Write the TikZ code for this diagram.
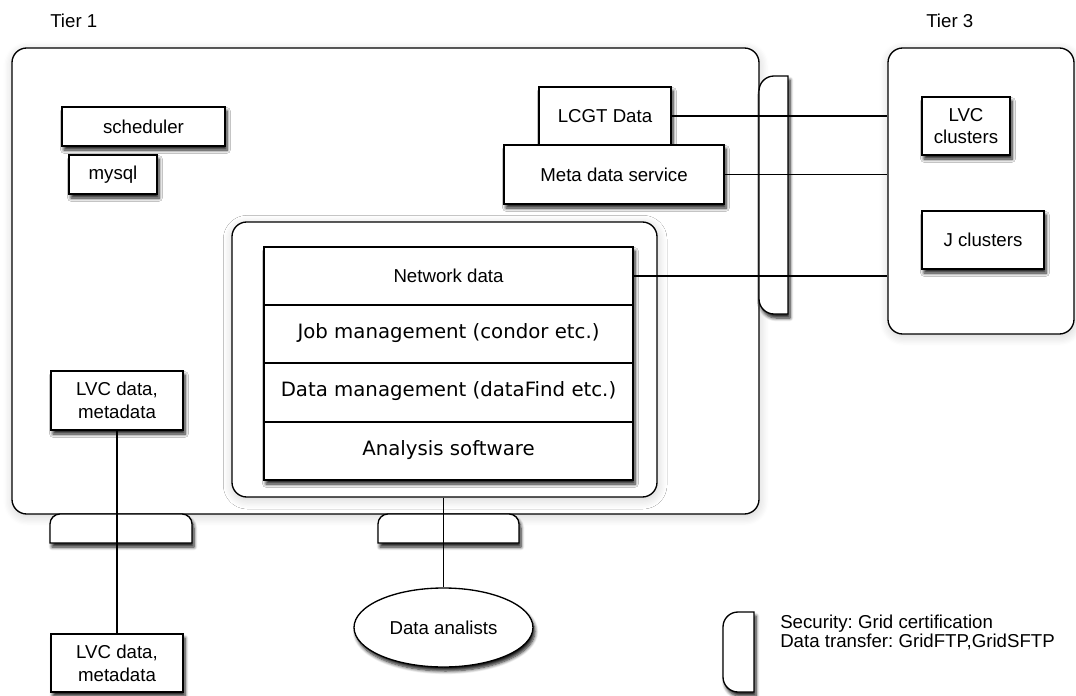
\documentclass[tikz,border=0pt]{standalone}
\usepackage{fontspec}
\setmainfont{Liberation Sans}
\newfontfamily\hira{DejaVu Sans}
\usetikzlibrary{shapes.geometric,shadows.blur}
\frenchspacing

\begin{document}
\begin{tikzpicture}[x=0.75pt,y=-0.75pt,
  every node/.style={font=\fontsize{14}{17}\selectfont},
  rect/.style n args={4}{minimum width={(#3-#1)*0.75pt}, minimum height={(#4-#2)*0.75pt}, at={({(#1+#3)/2},{(#2+#4)/2})}},
  sh/.style={blur shadow={shadow xshift=1.5pt,shadow yshift=-3pt,shadow blur radius=2.5pt,shadow opacity=90,shadow blur steps=6}},
  bigsh/.style={blur shadow={shadow xshift=0.5pt,shadow yshift=-2pt,shadow blur radius=7pt,shadow opacity=18,shadow blur steps=8}},
  box/.style={draw,fill=white,line width=1pt,inner sep=0pt,sh,align=center},
  plain/.style={draw,fill=white,line width=1pt,inner sep=0pt,align=center},
  frame/.style={draw,fill=white,line width=1pt,inner sep=0pt,rounded corners=11pt,bigsh},
  tab/.style={draw,fill=white,line width=1pt,sh},
  link/.style={line width=1pt},
  rowtext/.style={font=\fontsize{14.8}{17}\hira}
]
\useasboundingbox (0,0) rectangle (1076,696);

% labels
\node[anchor=base west,inner sep=0pt] (tier1) at (50,27) {Tier 1};
\node[anchor=base west,inner sep=0pt] (tier3) at (926,27) {Tier 3};

% frames
\node[frame,rect={12}{48}{759}{514}] (t1) {};
\node[frame,rect={888}{48}{1074}{334}] (t3) {};

% security bar (right side of tier 1)
\draw[tab] (788,76) -- (774,76) arc[start angle=90,end angle=180,radius=11.25pt]
  -- (759,299) arc[start angle=180,end angle=270,radius=11.25pt] -- (788,314) -- cycle;

% bottom tabs
\draw[tab] (50,543) -- (50,524) arc[start angle=180,end angle=90,radius=7.5pt]
  -- (182,514) arc[start angle=90,end angle=0,radius=7.5pt] -- (192,543) -- cycle;
\draw[tab] (378,543) -- (378,524) arc[start angle=180,end angle=90,radius=7.5pt]
  -- (509,514) arc[start angle=90,end angle=0,radius=7.5pt] -- (519,543) -- cycle;

% tier 1 contents
\node[box,rect={62}{107}{225}{146}] (sched) {scheduler};
\node[box,rect={69}{155}{157}{194}] (mysql) {mysql};
\node[box,rect={539}{87}{671}{145}] (lcgt) {LCGT Data};
\node[box,rect={504}{145}{724}{204}] (meta) {Meta data service};
\node[box,rect={51}{371}{183}{430}] (lvc1) {LVC data,\\metadata};

% inner frame and stack
\node[frame,rect={232}{222}{657}{497}] (inner) {};
\node[box,rect={264}{247}{633}{480}] (stack) {};
\node[plain,rect={264}{247}{633}{305}] (net) {Network data};
\node[plain,rowtext,rect={264}{305}{633}{363},text depth=5pt] (job) {Job management (condor etc.)};
\node[plain,rowtext,rect={264}{363}{633}{422},text depth=5pt] (dm) {Data management (dataFind etc.)};
\node[plain,rowtext,rect={264}{422}{633}{480},text depth=5pt] (sw) {Analysis software};

% tier 3 contents
\node[box,rect={922}{97}{1010}{155}] (lvcc) {LVC\\clusters};
\node[box,rect={922}{211}{1044}{269}] (jc) {J clusters};

% outside
\node[box,rect={51}{634}{183}{692}] (lvc2) {LVC data,\\metadata};
\node[box,ellipse,rect={354}{588}{533}{667}] (analists) {Data analists};

% legend
\draw[tab] (754,612) -- (738,612) arc[start angle=90,end angle=180,radius=11.25pt]
  -- (723,677) arc[start angle=180,end angle=270,radius=11.25pt] -- (754,692) -- cycle;
\node[anchor=base west,inner sep=0pt,align=left,font=\fontsize{14}{13.8}\selectfont] (legend) at (780,647)
  {Security: Grid certification\\Data transfer: GridFTP,GridSFTP};

% connectors
\draw[link] (lcgt.east) -- (lcgt.east -| t3.west);
\draw[link] (meta.east) -- (meta.east -| t3.west);
\draw[link] (net.east) -- (net.east -| t3.west);
\draw[link] (lvc1.south) -- (lvc2.north);
\draw[link] (inner.south -| analists.north) -- (analists.north);
\end{tikzpicture}
\end{document}
